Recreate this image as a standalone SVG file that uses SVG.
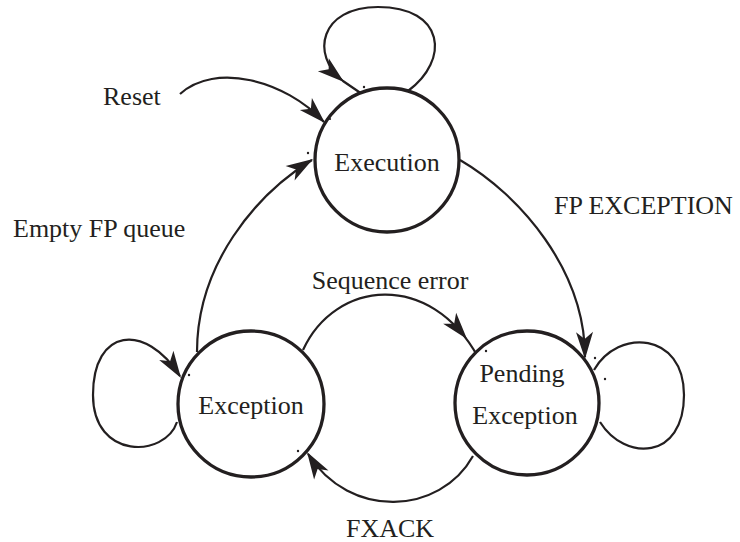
<svg xmlns="http://www.w3.org/2000/svg" width="740" height="542" viewBox="0 0 740 542">
  <style>
    .state { fill: #ffffff; stroke: #231f20; stroke-width: 3.3; }
    .edge { fill: none; stroke: #231f20; stroke-width: 2.2; }
    .lbl { font-family: "Liberation Serif", "Times New Roman", serif; font-size: 26px; fill: #231f20; }
    .dot { fill: #231f20; }
    .head { fill: #231f20; stroke: none; }
  </style>
  <defs>
    <path id="ah" d="M0,0 L-27,-8.5 L-20,0 L-27,8.5 Z"/>
  </defs>
  <rect width="740" height="542" fill="#ffffff"/>

  <g id="connectors">
    <!-- Reset -->
    <path class="edge" d="M180,94 C215,62 285,80 324,122"/>
    <use href="#ah" class="head" transform="translate(325,123) rotate(45)"/>
    <!-- Execution self loop -->
    <path class="edge" d="M408,91 C450,60 445,7 378,7 C320,7 310,55 343,81 L362,94"/>
    <use href="#ah" class="head" transform="translate(344,82) rotate(40)"/>
    <!-- Empty FP queue -->
    <path class="edge" d="M197,352 C197,265 255,195 312,160"/>
    <use href="#ah" class="head" transform="translate(313,159) rotate(-32)"/>
    <!-- FP EXCEPTION -->
    <path class="edge" d="M460,160 C520,195 585,270 585,357"/>
    <use href="#ah" class="head" transform="translate(585,359) rotate(89)"/>
    <!-- Sequence error -->
    <path class="edge" d="M303,350 C335,280 430,270 478,357"/>
    <use href="#ah" class="head" transform="translate(467,339) rotate(50)"/>
    <!-- FXACK -->
    <path class="edge" d="M473,456 C440,515 350,520 308,454"/>
    <use href="#ah" class="head" transform="translate(307,452) rotate(-122)"/>
    <!-- Exception self loop -->
    <path class="edge" d="M177,422 C165,458 93,460 93,395 C93,328 145,322 180,376"/>
    <use href="#ah" class="head" transform="translate(181,378) rotate(57)"/>
    <!-- Pending Exception self loop -->
    <path class="edge" d="M594,370 C618,328 684,332 684,395 C684,460 625,462 600,422"/>
  </g>

  <g id="execution">
    <circle class="state" cx="387" cy="160" r="72"/>
    <text class="lbl" x="387" y="171" text-anchor="middle">Execution</text>
  </g>
  <g id="exception">
    <circle class="state" cx="251" cy="404" r="73"/>
    <text class="lbl" x="251" y="414" text-anchor="middle">Exception</text>
  </g>
  <g id="pending-exception">
    <circle class="state" cx="527" cy="403" r="72"/>
    <text class="lbl" x="522" y="382" text-anchor="middle">Pending</text>
    <text class="lbl" x="525" y="424" text-anchor="middle">Exception</text>
  </g>

  <g id="labels">
    <text class="lbl" x="103" y="105">Reset</text>
    <text class="lbl" x="13" y="237">Empty FP queue</text>
    <text class="lbl" x="554" y="214">FP EXCEPTION</text>
    <text class="lbl" x="390" y="289" text-anchor="middle">Sequence error</text>
    <text class="lbl" x="390" y="537" text-anchor="middle">FXACK</text>
  </g>

  <g id="marks">
    <circle class="dot" cx="364" cy="87" r="1.2"/>
    <circle class="dot" cx="330" cy="119" r="1.1"/>
    <circle class="dot" cx="308" cy="153" r="1.2"/>
    <circle class="dot" cx="189" cy="375" r="1.2"/>
    <circle class="dot" cx="298" cy="451" r="1.2"/>
    <circle class="dot" cx="486" cy="351" r="1.2"/>
    <circle class="dot" cx="595" cy="358" r="1.2"/>
    <circle class="dot" cx="605" cy="379" r="1.2"/>
  </g>
</svg>
